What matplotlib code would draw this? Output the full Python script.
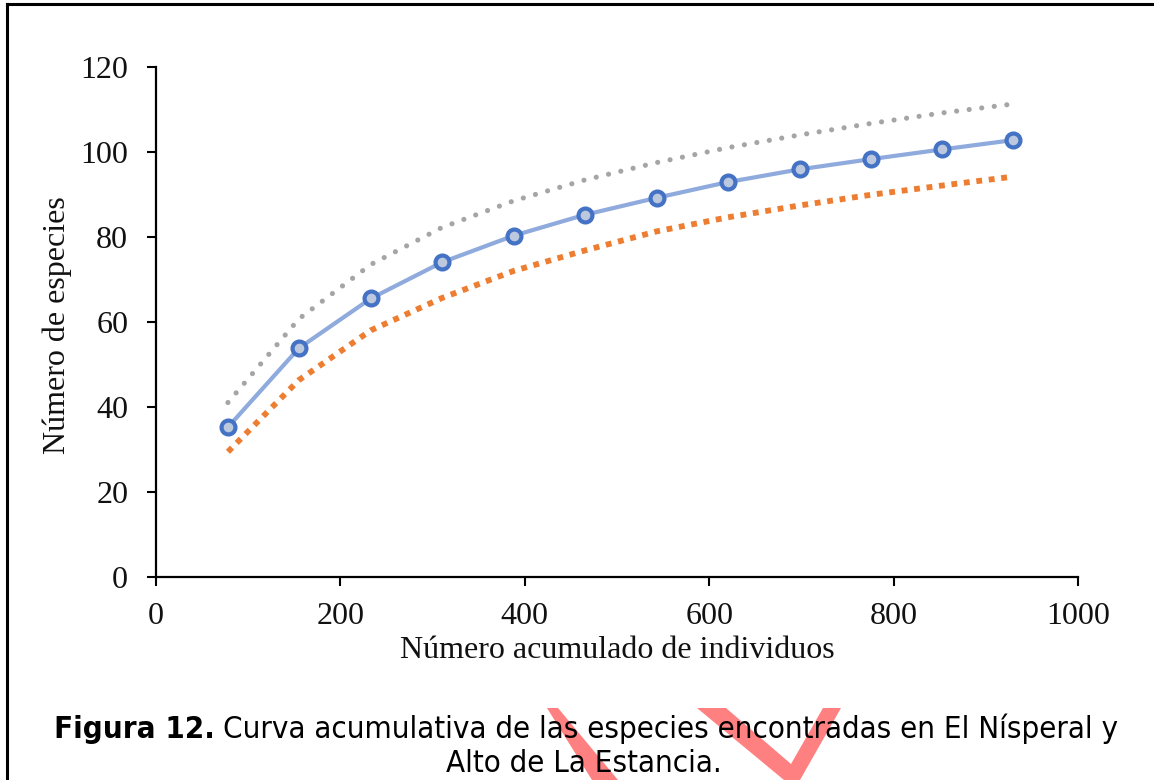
import matplotlib
matplotlib.use('Agg')
import matplotlib.pyplot as plt
from matplotlib.patches import Polygon
from matplotlib.lines import Line2D

# ---------------- data ----------------
individuos = [78, 155, 233, 310, 388, 465, 543, 620, 698, 775, 853, 930]
especies = [35.2, 53.8, 65.5, 74.0, 80.3, 85.2, 89.2, 92.9, 95.9, 98.3, 100.6, 102.8]
limite_superior = [41.0, 60.7, 73.5, 82.2, 88.5, 93.4, 97.5, 101.0, 104.0, 106.7, 109.2, 111.3]
limite_inferior = [29.4, 46.3, 58.0, 65.6, 72.0, 76.8, 81.3, 84.6, 87.4, 89.9, 92.1, 94.2]
x_ticks = [0, 200, 400, 600, 800, 1000]
y_ticks = [0, 20, 40, 60, 80, 100, 120]
x_label = 'Número acumulado de individuos'
y_label = 'Número de especies'
caption_bold = 'Figura 12.'
caption_line1 = 'Curva acumulativa de las especies encontradas en El Nísperal y'
caption_line2 = 'Alto de La Estancia.'

W, H = 1154, 780
fig = plt.figure(figsize=(W / 100, H / 100), dpi=100)
fig.patch.set_facecolor('white')

def fx(px):
    return px / W

def fy(py):
    return 1 - py / H

# watermark (behind everything)
wm_color = '#FF8080'
left_stroke = [(547, 708), (558, 708), (618, 780), (592, 780)]
v_shape = [(697, 708), (726, 708), (791, 764), (823, 708), (841, 708), (800, 780), (784, 780)]
for poly in (left_stroke, v_shape):
    fig.patches.append(Polygon([(fx(a), fy(b)) for a, b in poly], closed=True,
                               transform=fig.transFigure, facecolor=wm_color,
                               edgecolor='none', zorder=0))

# axes
ax_left, ax_right, ax_bottom, ax_top = 156, 1078, 576.7, 67
ax = fig.add_axes([fx(ax_left), fy(ax_bottom), (ax_right - ax_left) / W, (ax_bottom - ax_top) / H])
ax.set_facecolor('none')
ax.set_zorder(2)

serif = ['Liberation Serif', 'DejaVu Serif']
fs = 23

ax.plot(individuos, limite_superior, color='#A5A5A5', linewidth=3.7,
        dashes=(0.01, 2.45), dash_capstyle='round', zorder=2)
ax.plot(individuos, limite_inferior, color='#ED7D31', linewidth=4.2,
        dashes=(1.0, 1.15), dash_capstyle='butt', zorder=2)
ax.plot(individuos, especies, color='#8FAADC', linewidth=3.0, zorder=3,
        marker='o', markersize=10, markeredgewidth=3.0,
        markeredgecolor='#4472C4', markerfacecolor='#BCC8DE')

ax.set_xlim(0, 1000)
ax.set_ylim(0, 120)
ax.set_xticks(x_ticks)
ax.set_yticks(y_ticks)
for s in ('top', 'right'):
    ax.spines[s].set_visible(False)
for s in ('left', 'bottom'):
    ax.spines[s].set_linewidth(1.6)
    ax.spines[s].set_color('black')
ax.tick_params(axis='both', direction='out', length=6.5, width=1.5, color='black',
               labelsize=fs, labelcolor='#111111')
ax.tick_params(axis='y', pad=13.5)
ax.tick_params(axis='x', pad=11.5)
for lbl in ax.get_xticklabels() + ax.get_yticklabels():
    lbl.set_fontfamily(serif)

fig.text(fx(617), fy(658), x_label, ha='center', va='baseline',
         fontsize=fs, family=serif, color='#111111')
fig.text(fx(57), fy(325), y_label, ha='center', va='center', rotation=90,
         fontsize=fs, family=serif, color='#111111')

# frame lines (left and top)
fig.lines.append(Line2D([fx(6.5), fx(6.5)], [0, fy(3.5)], transform=fig.transFigure,
                        color='black', linewidth=2.2, zorder=5))
fig.lines.append(Line2D([fx(6.5), 1], [fy(3.5), fy(3.5)], transform=fig.transFigure,
                        color='black', linewidth=2.2, zorder=5))

# caption
cap_family = ['DejaVu Sans']
cap_kw = dict(family=cap_family, stretch='condensed', color='black', zorder=10)
renderer = fig.canvas.get_renderer()

def width(t):
    return t.get_window_extent(renderer=renderer).width

size = 20.0
t_b = fig.text(0, fy(738), caption_bold, fontsize=size, fontweight='bold', va='baseline', **cap_kw)
t_r = fig.text(0, fy(738), caption_line1, fontsize=size, va='baseline', **cap_kw)
t_s1 = fig.text(0, 0, 'a a', fontsize=size, **cap_kw)
t_s2 = fig.text(0, 0, 'aa', fontsize=size, **cap_kw)
total = width(t_b) + width(t_r) + (width(t_s1) - width(t_s2))
size = size * (1120 - 53) / total
for t in (t_b, t_r, t_s1, t_s2):
    t.set_fontsize(size)
wb, wr = width(t_b), width(t_r)
sp = width(t_s1) - width(t_s2)
t_s1.remove()
t_s2.remove()
total = wb + sp + wr
cx = 586
start = cx - total / 2
t_b.set_x(fx(start))
t_r.set_x(fx(start + wb + sp))
fig.text(fx(584), fy(772), caption_line2, fontsize=size, ha='center', va='baseline', **cap_kw)

fig.savefig('out.png', dpi=100, facecolor='white')
